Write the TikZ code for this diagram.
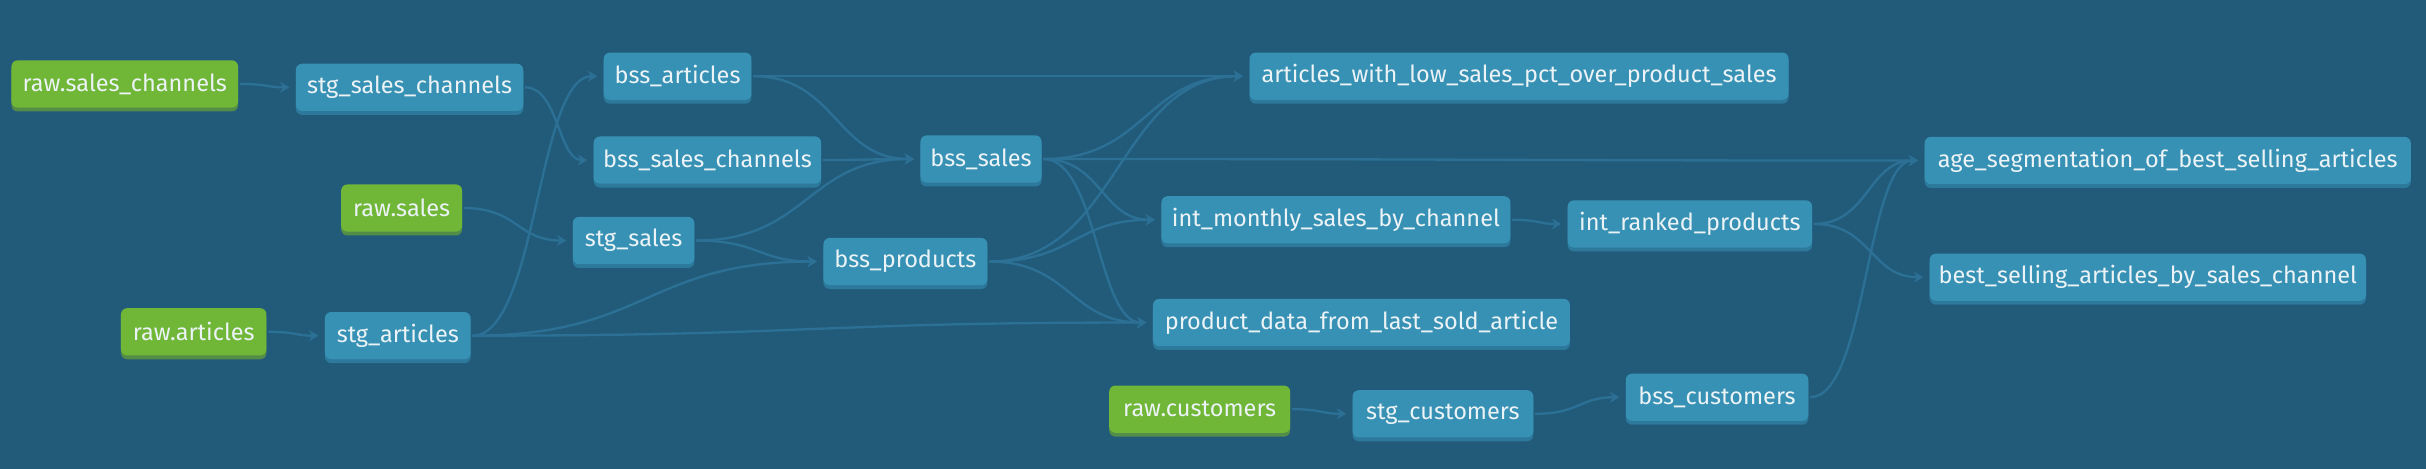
\documentclass[tikz,border=0pt]{standalone}
\usepackage{fontspec}
\setmainfont{Fira Sans}
\usetikzlibrary{arrows.meta,shadows,calc}
\definecolor{bg}{RGB}{34,91,122}
\definecolor{nblue}{RGB}{55,145,180}
\definecolor{nblueS}{RGB}{44,121,156}
\definecolor{ngreen}{RGB}{112,183,56}
\definecolor{ngreenS}{RGB}{84,141,72}
\definecolor{ecol}{RGB}{44,113,149}
\definecolor{txt}{RGB}{236,243,246}
\newcommand{\lblfont}{\fontsize{15.2pt}{17pt}\selectfont}
\begin{document}
\begin{tikzpicture}[x=1pt,y=-1pt,
  base/.style={rounded corners=4pt, minimum height=30.5pt, inner sep=0pt, text=txt, font=\lblfont, anchor=north west},
  mdl/.style={base, fill=nblue, general shadow={fill=nblueS, shadow yshift=-2.5pt}},
  src/.style={base, fill=ngreen, general shadow={fill=ngreenS, shadow yshift=-2.5pt}},
  flow/.style={draw=ecol, line width=1.5pt, -{Stealth[length=6pt,width=7pt,inset=2pt]}, shorten >=4pt, shorten <=1pt,
    to path={let \p1=(\tikztostart), \p2=(\tikztotarget) in
      .. controls ({(\x1+\x2)/2},\y1) and ({(\x1+\x2)/2},\y2) .. (\tikztotarget) \tikztonodes}}
]
\useasboundingbox (0,0) rectangle (1568,303);
\fill[bg] (0,0) rectangle (1568,303);

% sources
\node[src, minimum width=146.5pt] (rsc) at (7.2,38.8) {raw.sales\_channels};
\node[src, minimum width=78.2pt] (rs) at (220.3,119) {raw.sales};
\node[src, minimum width=94pt] (ra) at (78,199) {raw.articles};
\node[src, minimum width=117pt] (rc) at (716.7,249) {raw.customers};

% models
\node[mdl, minimum width=147pt] (ssc) at (191,41) {stg\_sales\_channels};
\node[mdl, minimum width=78.6pt] (ss) at (370,140) {stg\_sales};
\node[mdl, minimum width=94.2pt] (sa) at (209.8,201.5) {stg\_articles};
\node[mdl, minimum width=95.5pt] (ba) at (390,33.8) {bss\_articles};
\node[mdl, minimum width=147pt] (bsc) at (383.5,88) {bss\_sales\_channels};
\node[mdl, minimum width=78.3pt] (bs) at (594.7,87.3) {bss\_sales};
\node[mdl, minimum width=106pt] (bp) at (532,153.6) {bss\_products};
\node[mdl, minimum width=348.4pt] (aw) at (807.4,33.8) {articles\_with\_low\_sales\_pct\_over\_product\_sales};
\node[mdl, minimum width=225.5pt] (im) at (750.5,126.6) {int\_monthly\_sales\_by\_channel};
\node[mdl, minimum width=269.5pt] (pd) at (745,193) {product\_data\_from\_last\_sold\_article};
\node[mdl, minimum width=158pt] (ir) at (1013,129.3) {int\_ranked\_products};
\node[mdl, minimum width=314.3pt] (ag) at (1243.7,88.3) {age\_segmentation\_of\_best\_selling\_articles};
\node[mdl, minimum width=282pt] (bsa) at (1247,163.7) {best\_selling\_articles\_by\_sales\_channel};
\node[mdl, minimum width=116.8pt] (sc) at (874,252) {stg\_customers};
\node[mdl, minimum width=118pt] (bc) at (1050.6,241.3) {bss\_customers};

% edges
\draw[flow] (rsc.east) to (ssc.west);
\draw[flow] (rs.east) to (ss.west);
\draw[flow] (ra.east) to (sa.west);
\draw[flow] (rc.east) to (sc.west);
\draw[flow] (ssc.east) to (bsc.west);
\draw[flow] (sa.east) to (ba.west);
\draw[flow] (sa.east) to (bp.west);
\draw[flow] (sa.east) to (pd.west);
\draw[flow] (ss.east) to (bs.west);
\draw[flow] (ss.east) to (bp.west);
\draw[flow] (ba.east) to (aw.west);
\draw[flow] (ba.east) to (bs.west);
\draw[flow] (bsc.east) to (bs.west);
\draw[flow] (bs.east) to (aw.west);
\draw[flow] (bs.east) to (ag.west);
\draw[flow] (bs.east) to (im.west);
\draw[flow] (bs.east) to (pd.west);
\draw[flow] (bp.east) to (aw.west);
\draw[flow] (bp.east) to (im.west);
\draw[flow] (bp.east) to (pd.west);
\draw[flow] (im.east) to (ir.west);
\draw[flow] (ir.east) to (ag.west);
\draw[flow] (ir.east) to (bsa.west);
\draw[flow] (sc.east) to (bc.west);
\draw[flow] (bc.east) to (ag.west);
\end{tikzpicture}
\end{document}
